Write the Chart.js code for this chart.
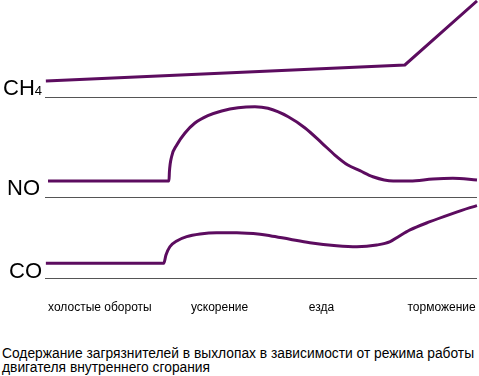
<!DOCTYPE html>
<html>
<head>
<meta charset="utf-8">
<script src="https://cdn.jsdelivr.net/npm/chart.js@4/dist/chart.umd.min.js"></script>
<style>
  body { margin: 0; background: #fff; }
  #wrap { position: relative; width: 479px; height: 376px; }
  #chart { position: absolute; left: 0; top: 0; }
  #caption {
    position: absolute; left: 2px; top: 347px;
    font: 13.8px "Liberation Sans", Arial, sans-serif; line-height: 14px;
    color: #000; white-space: nowrap;
  }
</style>
</head>
<body>
<div id="wrap">
  <canvas id="chart" width="479" height="320"></canvas>
  <div id="caption">Содержание загрязнителей в выхлопах в зависимости от режима работы<br>двигателя внутреннего сгорания</div>
</div>
<script>
// driving phases along the time axis (0..100)
const phaseLabels = ['холостые обороты', 'ускорение', 'езда', 'торможение']
const phaseCenters = [12.7, 40.4, 64, 91.8]

// relative level of each pollutant (0 = panel baseline, 100 = panel top)
const ch4X = [0.2, 83.3, 100]
const ch4Y = [17.3, 33.7, 99]

const noX = [0.7, 28.7, 28.8, 29.3, 30.5, 32.4, 34.7, 37.7, 40.9, 44.7, 48.6, 51.6, 56.3, 60.2, 64.1, 67.1, 70.1, 72.9, 75.9, 80.6, 84.5, 89.8, 94.4, 100]
const noY = [16.2, 16.2, 25.6, 40.7, 52.5, 64.6, 74.7, 82.1, 86.9, 90.2, 91.2, 89.6, 81.1, 69.7, 54.5, 42.4, 32.3, 26.6, 20.5, 16.2, 16.2, 18.2, 18.9, 17.2]

const coX = [0.2, 27.5, 28.0, 28.9, 30.5, 32.8, 35.9, 39.7, 44.4, 49.8, 52.1, 56.7, 61.3, 67.5, 72.2, 76.8, 79.9, 81.8, 84.5, 89.1, 93.8, 98.4, 100]
const coY = [18.1, 18.1, 28.4, 38.6, 45.7, 51.0, 54.3, 55.9, 55.9, 54.0, 52.2, 47.8, 43.6, 39.9, 38.6, 40.7, 44.8, 51.0, 59.3, 69.5, 78.6, 86.8, 89.3]

const lineColor = '#5c0c5f'
const baseColor = '#555555'
const fontFamily = '"Liberation Sans", Arial, sans-serif'

function points(xs, ys) {
  return xs.map((x, i) => ({ x: x, y: ys[i] }))
}

function panelAxis(weight) {
  return {
    type: 'linear',
    position: 'left',
    stack: 'panels',
    stackWeight: weight,
    min: 0,
    max: 100,
    afterBuildTicks: (axis) => { axis.ticks = [{ value: 0 }] },
    ticks: { display: false },
    grid: { color: baseColor, lineWidth: 1, drawTicks: false },
    border: { display: false }
  }
}

// gas names to the left of each panel
const panelNames = {
  id: 'panelNames',
  afterDraw(chart) {
    const ctx = chart.ctx
    const right = chart.chartArea.left - 3
    ctx.save()
    ctx.fillStyle = '#000'
    ctx.textBaseline = 'alphabetic'
    ctx.textAlign = 'right'
    const coBase = chart.scales.yCO.bottom
    const noBase = chart.scales.yNO.bottom
    const chBase = chart.scales.yCH4.bottom
    ctx.font = '22px ' + fontFamily
    ctx.fillText('CO', right, coBase)
    ctx.fillText('NO', right - 2, noBase - 2)
    ctx.font = '13px ' + fontFamily
    ctx.fillText('4', right, chBase - 3)
    const w4 = ctx.measureText('4').width
    ctx.font = '22px ' + fontFamily
    ctx.fillText('CH', right - w4, chBase - 3)
    ctx.restore()
  }
}

const ds = (label, data, axis, extra) => Object.assign({
  label: label,
  data: data,
  yAxisID: axis,
  borderColor: lineColor,
  borderWidth: 3,
  pointRadius: 0,
  fill: false,
  clip: 6
}, extra)

new Chart(document.getElementById('chart'), {
  type: 'line',
  data: {
    datasets: [
      ds('CH4', points(ch4X, ch4Y), 'yCH4', { tension: 0 }),
      ds('NO', points(noX, noY), 'yNO', { cubicInterpolationMode: 'monotone' }),
      ds('CO', points(coX, coY), 'yCO', { cubicInterpolationMode: 'monotone' })
    ]
  },
  options: {
    responsive: false,
    animation: false,
    devicePixelRatio: 1,
    layout: { padding: { left: 45, right: 2, top: 0, bottom: 0 } },
    plugins: {
      legend: { display: false },
      tooltip: { enabled: false }
    },
    scales: {
      x: {
        type: 'linear',
        min: 0,
        max: 100,
        afterBuildTicks: (axis) => { axis.ticks = phaseCenters.map(v => ({ value: v })) },
        afterFit: (axis) => {
          axis.height = 42
          axis.paddingLeft = 0
          axis.paddingRight = 0
        },
        ticks: {
          autoSkip: false,
          maxRotation: 0,
          padding: 14,
          color: '#000',
          font: { family: fontFamily, size: 12 },
          callback: (value, index) => phaseLabels[index]
        },
        grid: { display: false },
        border: { display: false }
      },
      yCO: panelAxis(81),
      yNO: panelAxis(99),
      yCH4: panelAxis(98)
    }
  },
  plugins: [panelNames]
})
</script>
</body>
</html>
